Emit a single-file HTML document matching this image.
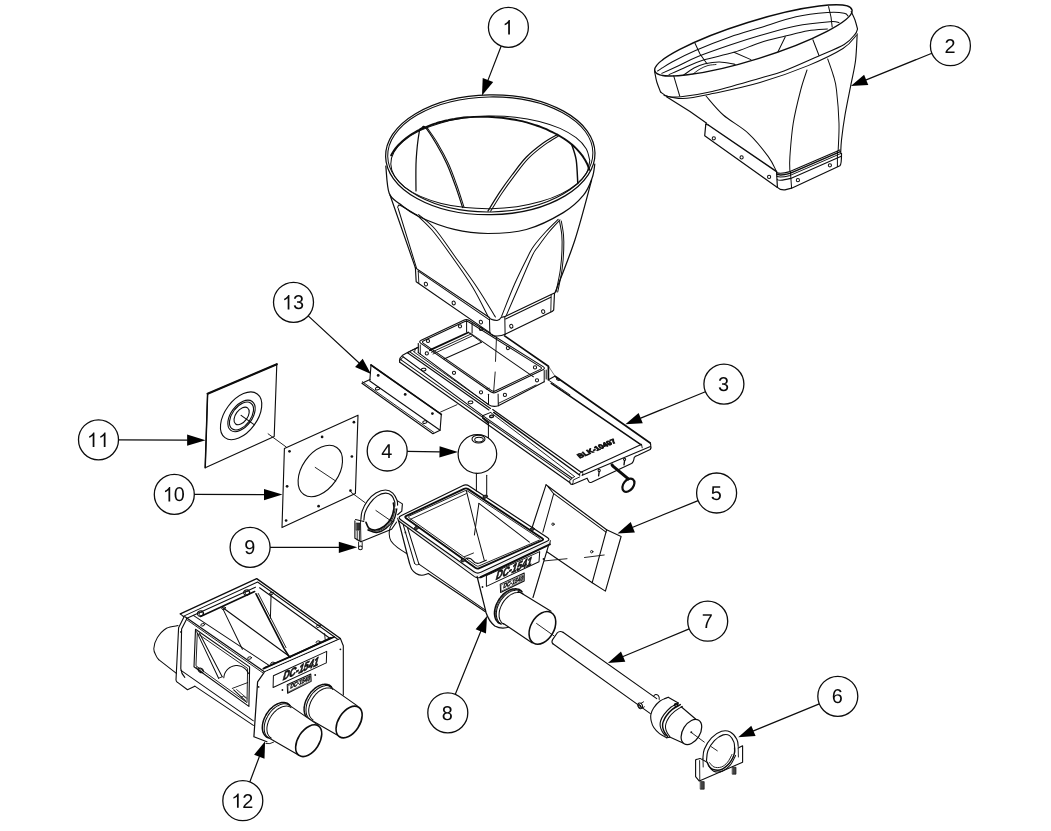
<!DOCTYPE html>
<html><head><meta charset="utf-8"><title>Exploded view</title>
<style>
html,body{margin:0;padding:0;background:#fff;}
body{width:1051px;height:831px;overflow:hidden;font-family:"Liberation Sans",sans-serif;}
svg{display:block;position:absolute;left:0;top:0;}
svg *{vector-effect:none;}
.g{fill:none;stroke:#0c0c0c;stroke-width:1.2;stroke-linecap:round;stroke-linejoin:round;}
.g text{text-rendering:geometricPrecision;}
.n{font-family:"Liberation Sans",sans-serif;font-size:19.9px;fill:#0a0a0a;stroke:none;text-anchor:middle;}
.t{font-family:"Liberation Sans",sans-serif;fill:#111;font-weight:bold;stroke:#111;stroke-linejoin:round;}
</style></head><body>
<svg width="1051" height="831" viewBox="0 0 1051 831">
<rect x="0" y="0" width="1051" height="831" fill="#fff" stroke="none"/>
<g class="g" opacity="0.999">
<!-- part 5 -->
<polyline points="546,484.8 606.6,529.8 592.2,582.7 546.5,551.5" stroke-width="1.12"/>
<polyline points="546,484.8 532.3,527" stroke-width="1.12"/>
<polyline points="553.7,493.7 542.9,532.2" stroke-width="1.01"/>
<polyline points="548,486.6 553.7,493.7 606,532.2" stroke-width="1.01"/>
<polyline points="606.6,529.8 621.1,536.5 605.4,591.1 592.2,582.7" stroke-width="1.12"/>
<circle cx="553" cy="524.2" r="1.2" stroke-width="0.90"/>
<circle cx="591.7" cy="551.7" r="1.2" stroke-width="0.90"/>
<polyline points="543.5,561 567,558.7" stroke-width="0.90"/>
<polyline points="584.5,557.5 604.2,555" stroke-width="0.90"/>
<!-- part 3 -->
<polyline points="399.8,362.3 569.7,482.5" stroke-width="1.23"/>
<polyline points="400.4,359.3 570.8,479.3" stroke-width="1.01"/>
<polyline points="402.7,356.5 483.1,415.8" stroke-width="1.01"/>
<polyline points="407.5,352.8 488.9,410" stroke-width="1.12"/>
<polyline points="409.4,351.7 490.5,408.5" stroke-width="1.01"/>
<polyline points="413.5,351.6 489,404.8" stroke-width="0.90"/>
<path d="M399.8 362.3Q398.6 358.5 402.2 355.6L407.5 352.5L417.4 347.4" stroke-width="1.12"/>
<path d="M400.8 360.2Q400.3 358.6 403.2 357.2" stroke-width="0.90"/>
<path d="M407.5 352.8L409.4 351.7L417.8 347.6" stroke-width="0.90"/>
<path d="M414.5 351.5Q414 348.5 418.2 347.2" stroke-width="0.90"/>
<ellipse cx="423.6" cy="369.6" rx="2.4" ry="1.3" stroke-width="1.01" transform="rotate(-8 423.6 369.6)"/>
<ellipse cx="470.5" cy="402.4" rx="2.4" ry="1.3" stroke-width="1.01" transform="rotate(-8 470.5 402.4)"/>
<ellipse cx="491.6" cy="416.3" rx="2" ry="1.2" stroke-width="1.34" transform="rotate(-8 491.6 416.3)"/>
<polyline points="482.6,415.8 490.8,412.4" stroke-width="1.01"/>
<polyline points="482.6,415.8 482.6,418.6" stroke-width="0.90"/>
<polyline points="483.6,418.6 488.5,423.2" stroke-width="1.79"/>
<polyline points="492.7,409.5 581.1,472.3" stroke-width="1.12"/>
<polyline points="493.7,412.4 579.5,475" stroke-width="1.46"/>
<polyline points="490.8,412.6 574.5,476.5" stroke-width="0.90"/>
<polyline points="483.1,415.8 572,478" stroke-width="1.01"/>
<path d="M569.7 482.5Q570.3 484.6 572.4 484.4L587.1 478.2L588.7 481.5Q589.6 483 591.6 482.3L631.5 463.6Q633.6 462.3 634.2 457.6Q635 456 638 455.2L650.2 449.6Q651.6 447.6 650.6 444.6" stroke-width="1.12"/>
<path d="M569.7 482.5Q568.8 480.6 570.8 479.3" stroke-width="0.90"/>
<path d="M570.8 479.3Q571.6 478.3 574.5 476.6" stroke-width="0.90"/>
<path d="M572.4 484.4Q573.5 482.6 573.2 480.0L579.8 476.9" stroke-width="0.90"/>
<path d="M579.5 475Q578.4 473.4 581.1 472.3" stroke-width="0.90"/>
<path d="M582.4 475.2Q583.6 473.4 582.4 471.6" stroke-width="0.90"/>
<polyline points="581.4,471.9 641.2,444.6" stroke-width="1.12"/>
<polyline points="582.2,475.2 650.4,446.6" stroke-width="1.12"/>
<polyline points="641.5,444.2 642.2,447.8" stroke-width="0.90"/>
<polyline points="548.6,366.4 555.1,376.3" stroke-width="0.56"/>
<polyline points="504.6,335.9 548.4,366.2 548.4,379.7" stroke-width="1.68"/>
<polyline points="546.2,370 546.2,379" stroke-width="1.01"/>
<polyline points="555.1,376.3 650.2,443" stroke-width="1.68"/>
<polyline points="551.2,383.3 641.2,444.9" stroke-width="1.57"/>
<polyline points="548.4,379.7 554.7,376.3" stroke-width="1.12"/>
<polyline points="548.9,380.4 570,394.8" stroke-width="0.90"/>
<path d="M650.2 443Q651 444 650.6 444.6" stroke-width="1.12"/>
<ellipse cx="558" cy="379.3" rx="1.6" ry="0.9" stroke-width="1.12" transform="rotate(30 558 379.3)"/>
<path d="M420.9 343.4Q418.3 341.6 421.2 340.2L463.7 320.2Q466.6 318.8 469.3 320.5L543.1 366.6Q545.8 368.3 542.9 369.7L496.2 392.2Q493.3 393.6 490.7 391.8Z" stroke-width="1.12" fill="#fff"/>
<path d="M423.4 343.3Q421.3 341.8 423.7 340.7L464.2 321.7Q466.6 320.6 468.8 322L540.4 366.9Q542.6 368.3 540.3 369.4L495.6 390.7Q493.3 391.8 491.2 390.3Z" stroke-width="1.01"/>
<polyline points="418.3,343.5 418.3,352.6" stroke-width="1.12"/>
<polyline points="420.3,345 420.3,354.6" stroke-width="0.90"/>
<path d="M418.3 352.6L488.4 404.6Q493 407.6 498.3 405.7L544.2 381.8" stroke-width="1.12"/>
<polyline points="488.5,394.3 488.5,404.6" stroke-width="1.01"/>
<polyline points="498.1,393.9 498.3,405.7" stroke-width="1.01"/>
<polyline points="544.2,370.5 544.2,381.8" stroke-width="1.01"/>
<polyline points="498.5,403.3 536,385" stroke-width="0.90"/>
<polyline points="429.9,350.2 468.2,332.5" stroke-width="1.90"/>
<polyline points="431.5,352.3 470.5,334.3" stroke-width="0.90"/>
<polyline points="433,354 472,336" stroke-width="0.90"/>
<polyline points="444,359 481.5,342.2" stroke-width="1.01"/>
<polyline points="466.6,320.5 466.6,332" stroke-width="1.01"/>
<polyline points="472.1,323 472.1,333" stroke-width="1.01"/>
<polyline points="469.8,332.8 533.5,376.8" stroke-width="1.01"/>
<polyline points="468.5,332.6 481.5,342.2" stroke-width="0.90"/>
<circle cx="480.9" cy="329" r="1.6" stroke-width="1.01"/>
<circle cx="426.8" cy="353.4" r="1.6" stroke-width="1.01"/>
<circle cx="454" cy="372.8" r="1.6" stroke-width="1.01"/>
<circle cx="481" cy="392.3" r="1.6" stroke-width="1.01"/>
<circle cx="504.9" cy="394.9" r="1.6" stroke-width="1.01"/>
<circle cx="537" cy="380.3" r="1.6" stroke-width="1.01"/>
<circle cx="428" cy="341" r="1.6" stroke-width="1.01"/>
<circle cx="460" cy="326.3" r="1.6" stroke-width="1.01"/>
<circle cx="507.9" cy="348.1" r="1.6" stroke-width="1.01"/>
<circle cx="535" cy="367.4" r="1.6" stroke-width="1.01"/>
<polyline points="496.5,337 495.5,361.4" stroke-width="0.90"/>
<polyline points="495.2,372 493.6,392.2" stroke-width="0.90"/>
<polyline points="486.3,389.2 489.3,388.2" stroke-width="0.78"/>
<circle cx="599.2" cy="470.4" r="1.1" stroke-width="1.01"/>
<polyline points="599.2,471.4 598.6,475.9" stroke-width="1.34"/>
<circle cx="624.6" cy="459.3" r="1.1" stroke-width="1.01"/>
<polyline points="624.6,460.3 624,464.8" stroke-width="1.34"/>
<circle cx="612" cy="464.8" r="1.5" fill="#111" stroke="none"/>
<polyline points="612.6,465.8 628.3,478.8" stroke-width="3.02"/>
<ellipse cx="628.4" cy="485.2" rx="7.4" ry="5" stroke-width="2.24" transform="rotate(-52 628.4 485.2)"/>
<text class="t" font-size="7.8" stroke="#111" stroke-width="0.9" transform="matrix(0.916 -0.400 0.634 0.689 579.7 458.5)" textLength="40.5" lengthAdjust="spacingAndGlyphs">BLK-10497</text>
<!-- part 1 -->
<ellipse cx="490.3" cy="154.8" rx="104.7" ry="59.9" stroke-width="1.23" transform="rotate(-1 490.3 154.8)"/>
<ellipse cx="490.3" cy="154.4" rx="102.6" ry="57.5" stroke-width="1.01" transform="rotate(-1 490.3 154.4)"/>
<path d="M589.8 160.7C589.3 162.7 588.8 168.8 586.6 172.7C584.5 176.6 581.1 180.5 576.9 184C572.6 187.6 567.2 191 561.2 193.9C555.2 196.8 548.1 199.5 540.7 201.6C533.3 203.7 525.1 205.5 516.8 206.7C508.6 207.8 499.7 208.5 491.1 208.7C482.5 208.8 473.6 208.5 465.3 207.6C457 206.7 448.7 205.2 441.3 203.4C433.8 201.5 426.6 199.1 420.5 196.4C414.4 193.6 408.9 190.4 404.5 187.1C400.2 183.7 396.7 179.9 394.4 176.1C392.1 172.2 390.9 168.1 390.8 164.1C390.7 160.1 391.8 156 394 152.1C396.1 148.2 399.5 144.3 403.7 140.8C408 137.2 413.4 133.8 419.4 130.9C425.4 128 432.5 125.3 439.9 123.2C447.3 121.1 455.5 119.3 463.8 118.1C472 117 480.9 116.3 489.5 116.1C498.1 116 507 116.3 515.3 117.2C523.6 118.1 531.9 119.6 539.3 121.4C546.8 123.3 554 125.7 560.1 128.4C566.2 131.2 571.7 134.4 576.1 137.7C580.4 141.1 583.9 144.9 586.2 148.7C588.5 152.6 589.2 158.7 589.8 160.7" stroke-width="1.01"/>
<path d="M391.1 155.4C391.4 154.7 392.4 152.9 393.2 151.7C394 150.5 394.8 149.3 395.7 148.1C396.7 147 397.7 145.8 398.7 144.7C399.8 143.6 400.9 142.5 402.1 141.4C403.3 140.3 404.5 139.3 405.9 138.2C407.2 137.2 408.6 136.2 410 135.3C411.5 134.3 413 133.4 414.5 132.5C416.1 131.6 417.7 130.7 419.4 129.9C421.1 129 422.8 128.2 424.6 127.5C426.4 126.7 428.2 126 430.1 125.3C431.9 124.6 433.8 124 435.8 123.4C437.7 122.7 439.7 122.2 441.8 121.6C443.8 121.1 445.9 120.6 448 120.2C450.1 119.7 452.2 119.3 454.4 119C456.5 118.6 458.7 118.3 460.9 118C463.1 117.7 465.3 117.5 467.6 117.3C469.8 117.1 472.1 117 474.3 116.9C476.6 116.8 478.9 116.7 481.2 116.7C483.5 116.7 485.7 116.7 488 116.8C490.3 116.9 492.6 117 494.9 117.2C497.2 117.3 499.5 117.5 501.8 117.8C504 118.1 506.3 118.4 508.5 118.7C510.8 119 513 119.4 515.2 119.8C517.5 120.3 519.7 120.7 521.8 121.2C524 121.8 526.1 122.3 528.2 122.9C530.4 123.5 532.4 124.1 534.5 124.8C536.5 125.5 538.6 126.2 540.5 126.9C542.5 127.6 544.4 128.4 546.3 129.2C548.2 130.1 550.1 130.9 551.9 131.8C553.7 132.7 555.4 133.6 557.1 134.5C558.8 135.5 560.5 136.5 562.1 137.5C563.7 138.5 565.2 139.5 566.7 140.6C568.1 141.6 569.6 142.7 570.9 143.8C572.3 144.9 573.6 146.1 574.8 147.2C576 148.4 577.2 149.6 578.3 150.8C579.4 152 580.4 153.2 581.3 154.4C582.3 155.6 583.2 156.9 584 158.2C584.8 159.4 585.6 160.7 586.2 162C586.9 163.3 587.5 164.5 588 165.8C588.5 167.1 589.1 169.1 589.3 169.8" stroke-width="1.90"/>
<path d="M385.8 166C386.4 170.6 386.8 187 389.2 193.3C391.6 199.6 395.2 200.2 400 204C404.8 207.8 409.1 212 418.1 216.2C427.1 220.4 442.6 226.5 454.2 229.4C465.8 232.3 475.9 233.5 487.9 233.5C499.9 233.5 513.8 233 526.4 229.5C539 226 553.8 218.3 563.3 212.6C572.8 206.9 578.7 200.9 583.5 195.1C588.3 189.3 590.3 183 592.2 177.8C594.1 172.6 594.4 166.3 594.8 164" stroke-width="1.23"/>
<polyline points="390,195 415.4,267.9"/>
<path d="M591.6 180.2C588.8 190.2 581 221.2 574.9 240C568.8 258.8 558.3 284 555 292.8" stroke-width="1.23"/>
<path d="M416 191C416 185.7 415.6 169.3 416.2 159.4C416.8 149.5 418.4 136.8 419.3 131.7C420.2 126.6 421.3 129.1 421.7 128.6" stroke-width="1.23"/>
<path d="M421.7 128.1C422.3 128 422.9 124.8 425.3 127.4C427.7 130 432.6 137.7 436.2 143.8C439.8 149.9 443.8 157.2 447 164.2C450.2 171.2 452.8 178.7 455.4 185.9C458 193.1 461.4 203.9 462.6 207.5" stroke-width="1.23"/>
<path d="M427 127.6C428.8 130.2 434.1 137.4 437.7 143.4C441.3 149.4 445.3 156.8 448.5 163.8C451.7 170.8 454.3 178.3 456.9 185.5C459.5 192.7 462.8 203.6 464 207.2" stroke-width="1.01"/>
<path d="M557.8 134.4C555.4 135.8 548.4 139.2 543.2 143C538 146.8 531.6 151.7 526.4 157C521.2 162.3 516.4 169.2 512 175C507.6 180.8 503.9 185.9 499.9 191.9C495.9 197.9 489.9 207.9 487.9 211.1" stroke-width="1.23"/>
<path d="M559.6 135.4C557.2 136.9 550.4 140.6 545.2 144.4C540 148.2 533.6 153.1 528.4 158.4C523.2 163.7 518.4 170.6 514 176.4C509.6 182.2 505.8 187.5 501.9 193.3C498 199.1 492.5 208.3 490.6 211.3" stroke-width="1.01"/>
<path d="M571.6 144.2C572.4 146.8 575.2 153.4 576.2 160C577.2 166.6 577.5 179.6 577.8 183.5" stroke-width="1.46"/>
<path d="M397.7 207.5C397.8 207.2 397.9 205.8 398.5 205.5C399.1 205.2 397.9 204.2 401 205.8C404.1 207.4 414.2 213.5 416.9 215" stroke-width="1.01"/>
<path d="M416.9 215C419.4 217.5 426.6 223.7 432 230C437.4 236.3 442.6 243.5 449.3 253C456.1 262.5 465.9 276.2 472.5 287C479.1 297.8 485.9 312.5 488.6 317.6" stroke-width="1.01"/>
<path d="M418.6 214.6C421.3 217 429.1 222.3 435 229C440.9 235.7 446.9 245.3 453.9 255C460.9 264.7 469.9 276.7 476.8 287C483.7 297.3 492.3 312 495.4 317" stroke-width="1.01"/>
<polyline points="398.2,208.5 416.6,268.3" stroke-width="1.01"/>
<path d="M560 219.8C558.2 221.8 552.6 227.6 549 232C545.4 236.4 541.1 242.4 538.4 246.2C535.7 250 535.7 248.6 532.6 255C529.5 261.4 524 274.5 519.6 284.7C515.2 294.9 508.3 310.9 506 316.1" stroke-width="1.01"/>
<path d="M558.2 219.3C556.2 221.3 550 227.1 546 231.5C542 235.9 536.9 241.8 534 245.7C531.1 249.6 531.9 248.6 528.6 255C525.4 261.4 519 274 514.5 284.2C510 294.4 503.8 310.9 501.6 316.3" stroke-width="1.01"/>
<path d="M561.3 221C561.7 223.3 563.1 230.2 563.5 235C563.9 239.8 564 244.2 563.7 250C563.5 255.8 563 263 562 270C561 277 558.4 288.3 557.7 292" stroke-width="1.01"/>
<path d="M559.6 221.6C560 223.8 561.4 230.3 561.8 235C562.2 239.7 562.2 244.2 562 250C561.8 255.8 561.3 263 560.3 270C559.3 277 556.7 288.3 556 292" stroke-width="1.01"/>
<polygon points="415.4,267.9 489,317.3 497,320.5 505.1,316.5 554.5,293 553.7,310 505.1,334.3 495.4,336 489.8,332.6 416.2,281.7" stroke-width="0.11" fill="#fff"/>
<polyline points="415.4,267.9 416.2,281.7 489.8,332.6" stroke-width="1.12"/>
<polyline points="418.2,270.6 418.8,283" stroke-width="0.90"/>
<polyline points="415.4,267.9 489,317.3" stroke-width="1.12"/>
<polyline points="418.2,271.2 489.4,319.8" stroke-width="1.01"/>
<path d="M489.0 317.3Q490.6 320.2 497.0 320.5Q500.0 320.0 501.1 317.4L505.1 316.5" stroke-width="1.12"/>
<polyline points="489.5,319 489.8,332.6" stroke-width="1.01"/>
<polyline points="504.8,317 505.1,334.3" stroke-width="1.01"/>
<path d="M489.8 332.6Q492 336.2 496.4 336.0Q501.6 336.2 505.1 334.3" stroke-width="1.12"/>
<polyline points="505.1,316.5 551.2,294.6 554.5,293 553.7,310 552.1,311.6 505.1,334.3" stroke-width="1.12"/>
<polyline points="505.6,319 550.8,297.2" stroke-width="1.01"/>
<polyline points="551.2,294.8 550.8,311.6" stroke-width="0.90"/>
<ellipse cx="425.9" cy="284.1" rx="1.6" ry="1.9" stroke-width="1.01" transform="rotate(-20 425.9 284.1)"/>
<ellipse cx="453.7" cy="303" rx="1.6" ry="1.9" stroke-width="1.01" transform="rotate(-20 453.7 303)"/>
<ellipse cx="480.9" cy="322.1" rx="1.6" ry="1.9" stroke-width="1.01" transform="rotate(-20 480.9 322.1)"/>
<ellipse cx="511.3" cy="326.2" rx="1.6" ry="1.9" stroke-width="1.01" transform="rotate(-20 511.3 326.2)"/>
<ellipse cx="543.2" cy="311.6" rx="1.6" ry="1.9" stroke-width="1.01" transform="rotate(-20 543.2 311.6)"/>
<!-- part 11 -->
<polygon points="207.6,393.7 276.8,364.2 274.2,436.6 205.2,467.7" stroke-width="1.12"/>
<polyline points="207.6,393.7 276.8,364.2" stroke-width="2.13"/>
<polyline points="207.6,393.7 205.2,467.7" stroke-width="1.46"/>
<ellipse cx="241.1" cy="415.8" rx="27.2" ry="16" stroke-width="1.12" transform="rotate(-53.5 241.1 415.8)"/>
<ellipse cx="241.5" cy="415.9" rx="18" ry="10.6" stroke-width="1.12" transform="rotate(-53.5 241.5 415.9)"/>
<ellipse cx="241.5" cy="416" rx="15.9" ry="9.3" stroke-width="1.12" transform="rotate(-53.5 241.5 416)"/>
<ellipse cx="241.6" cy="415.9" rx="10" ry="5.9" stroke-width="1.12" transform="rotate(-53.5 241.6 415.9)"/>
<polyline points="241.1,415.4 254.1,424.6" stroke-width="1.12"/>
<polyline points="268.1,433.8 286.2,447" stroke-width="0.90"/>
<!-- part 10 -->
<polygon points="284.4,448.6 358,415.2 355.4,493.4 282,527.6" stroke-width="1.12"/>
<ellipse cx="320.3" cy="471" rx="28.7" ry="18.2" stroke-width="1.12" transform="rotate(-55 320.3 471)"/>
<circle cx="289.5" cy="451.3" r="1.35" fill="#111" stroke="none"/>
<circle cx="322.1" cy="436.9" r="1.35" fill="#111" stroke="none"/>
<circle cx="353.9" cy="422.2" r="1.35" fill="#111" stroke="none"/>
<circle cx="351.9" cy="456.5" r="1.35" fill="#111" stroke="none"/>
<circle cx="350.5" cy="490.7" r="1.35" fill="#111" stroke="none"/>
<circle cx="318.6" cy="506.2" r="1.35" fill="#111" stroke="none"/>
<circle cx="286.1" cy="520.5" r="1.35" fill="#111" stroke="none"/>
<circle cx="287.1" cy="486.3" r="1.35" fill="#111" stroke="none"/>
<polyline points="315.2,467.4 335.8,481.1" stroke-width="0.90"/>
<polyline points="351.2,492.4 365.1,502.7" stroke-width="0.90"/>
<!-- part 9 -->
<path d="M360.9 519.5C361.1 518.1 361 514.2 362.1 511.1C363.2 508 365.2 503.9 367.5 500.9C369.8 497.9 372.9 494.9 375.9 493.1C378.9 491.3 382.7 490 385.5 490C388.3 490 390.9 491.4 392.8 493.1C394.7 494.8 396.2 498.3 397 500.3C397.8 502.3 397.5 504.3 397.6 505.1" stroke-width="1.12"/>
<path d="M363.9 520.1C364.1 518.8 364.1 515.1 365.1 512.3C366.1 509.5 367.9 506 369.9 503.3C371.9 500.6 374.5 497.8 377.1 496.1C379.7 494.4 383.1 493.2 385.5 493.1C387.9 493 390.1 494.1 391.6 495.5C393.1 496.9 394.1 499.7 394.6 501.5C395.1 503.3 394.8 505.5 394.8 506.3" stroke-width="1.12"/>
<path d="M366 522.3C366.5 523.3 367.3 526.8 368.9 528.1C370.5 529.4 373 530.3 375.6 530C378.2 529.7 381.7 528.1 384.3 526.2C386.9 524.3 389.4 521.4 391 518.5C392.6 515.6 393.5 511.5 393.9 508.9C394.3 506.3 393.5 504.1 393.4 503.1" stroke-width="1.68"/>
<path d="M367.9 530C369.3 530.4 373.6 532.8 376.6 532.5C379.7 532.2 383.3 530.3 386.2 528.1C389.1 525.9 392.1 522.7 393.9 519.5C395.7 516.3 396.3 510.7 396.8 508.9" stroke-width="1.34"/>
<path d="M368.2 529C369.5 529.4 373.2 531.5 376 531.2C378.8 530.9 382.5 529.2 385.2 527.2C387.9 525.2 390.7 522 392.4 519C394.1 516 394.7 510.6 395.2 508.9" stroke-width="0.90"/>
<polyline points="355.5,519.5 363.9,521.5" stroke-width="1.01"/>
<polyline points="354.9,520.7 354.9,538.2 360.9,541.8 391.6,529.2 396.6,522" stroke-width="1.12"/>
<polyline points="397.6,500.9 402.4,503.9 401.8,511.1 397.6,514.7" stroke-width="1.12"/>
<polyline points="360.5,520.6 360.9,541.8" stroke-width="0.90"/>
<rect x="356.4" y="523.0" width="3.6" height="7.2" fill="#333" stroke="#111" stroke-width="0.6"/>
<polyline points="357.2,531 357.2,540" stroke-width="0.90"/>
<polyline points="359.4,531 359.4,540.6" stroke-width="0.90"/>
<polyline points="358.6,542 358.6,546.5" stroke-width="0.90"/>
<polyline points="362.2,542.5 362.2,546.5" stroke-width="0.90"/>
<circle cx="360.4" cy="547.9" r="1.9" stroke-width="1.01"/>
<polyline points="375.9,510.5 391.6,521.3" stroke-width="0.90"/>
<!-- part 8 -->
<path d="M394.2 520.6C393.5 521.8 391 525.3 390.2 527.5C389.4 529.7 389.1 531.8 389.2 534C389.3 536.2 389.6 538.7 391 541C392.4 543.3 394.6 545.3 397.6 547.6C400.6 549.9 407.1 553.8 409 555" stroke-width="1.01"/>
<polygon points="398.2,519 477,576 549.5,542 533,597.5 520,610 509,627 494.8,626.4 486.1,612.7 485.4,611.8 428.3,573.5 421.8,575.3 416,573.5 411.7,569.2 409.5,563.4" stroke-width="0.11" fill="#fff"/>
<polyline points="398.5,520.4 409.5,563.4" stroke-width="1.23"/>
<path d="M409.5 563.4C409.9 564.4 410.6 567.5 411.7 569.2C412.8 570.9 414.3 572.5 416 573.5C417.7 574.5 419.8 575.3 421.8 575.3C423.9 575.3 427.2 573.8 428.3 573.5" stroke-width="1.12"/>
<polyline points="428.3,573.5 485.4,611.8" stroke-width="1.12"/>
<polyline points="403.2,524.6 414.6,563.4" stroke-width="1.01"/>
<polyline points="407.6,528 418.9,564.2" stroke-width="1.01"/>
<path d="M414.6 563.4Q415.6 566.0 418.9 564.2" stroke-width="0.90"/>
<polyline points="418.9,564.2 484.6,609.6" stroke-width="1.01"/>
<circle cx="405.4" cy="532.4" r="0.9" fill="#111" stroke="none"/>
<path d="M477.1 576.5L486.1 612.7Q488.6 620.8 494.8 626.0Q501.5 629.6 509.4 627.0" stroke-width="1.23"/>
<polyline points="548.4,545.8 533,597.5" stroke-width="1.12"/>
<path d="M400.7 519.7Q397.4 517.4 401 515.7L462.6 485.7Q466.2 484 469.5 486.2L547.3 537.4Q550.6 539.6 547 541.3L480.9 572.3Q477.3 574 474 571.7Z" stroke-width="1.23" fill="#fff"/>
<path d="M398.4 520.8L474.5 576.6Q477.4 578.6 480.6 577.2" stroke-width="1.12"/>
<path d="M480.6 577.2L549.8 544.4" stroke-width="2.13"/>
<polyline points="397.6,518.2 398.4,520.8" stroke-width="1.01"/>
<polyline points="550.3,540.5 549.8,544.2" stroke-width="1.01"/>
<path d="M406.1 518.2Q404.2 516.8 406.4 515.8L464 488.8Q466.2 487.8 468.2 489.1L542.2 538.2Q544.2 539.5 542 540.5L479.4 568.2Q477.2 569.2 475.3 567.8Z" stroke-width="1.90"/>
<path d="M408.8 517.7Q407.6 516.8 409 516.2L464.8 490.8Q466.2 490.2 467.5 491L539.7 538.6Q541 539.4 539.6 540L478.8 566Q477.4 566.6 476.2 565.7Z" stroke-width="0.90"/>
<polyline points="410.6,519.2 466.4,493.6" stroke-width="0.90"/>
<polyline points="466.4,490.8 475.4,527 484.3,560.3" stroke-width="1.01"/>
<polyline points="478.9,503.4 476.2,522 474.4,535" stroke-width="1.01"/>
<polyline points="478.9,503.4 529.4,542.2" stroke-width="1.01"/>
<polyline points="464.4,556.7 473.5,553" stroke-width="0.90"/>
<path d="M466.4 558.4Q470.5 557.4 472.8 560.6Q475.6 564.4 479.6 563.0L486.3 560.2" stroke-width="1.12"/>
<ellipse cx="416.6" cy="527.8" rx="2.3" ry="1.5" stroke-width="0.90" fill="#444" transform="rotate(-20 416.6 527.8)"/>
<ellipse cx="463" cy="560.3" rx="2.3" ry="1.5" stroke-width="0.90" fill="#444" transform="rotate(-20 463 560.3)"/>
<ellipse cx="485.2" cy="496.7" rx="2.3" ry="1.5" stroke-width="0.90" fill="#444" transform="rotate(-20 485.2 496.7)"/>
<ellipse cx="532.1" cy="529.2" rx="2.3" ry="1.5" stroke-width="0.90" fill="#444" transform="rotate(-20 532.1 529.2)"/>
<polygon points="486.4,575.6 539.7,551.6 539,561.8 486.4,586.4" stroke-width="1.01"/>
<text class="t" font-size="10" stroke="#111" stroke-width="0.65" transform="matrix(0.921 -0.390 -0.349 1.279 495.2 580)" textLength="38.8" lengthAdjust="spacingAndGlyphs">DC-1541</text>
<polygon points="500.2,584.1 524.2,573 524.2,581 500.6,592.5" stroke-width="1.01"/>
<polygon points="501.3,584.9 523.2,574.8 523.2,580.4 501.6,591" stroke-width="0.56"/>
<text class="t" font-size="6" stroke="#111" stroke-width="0.45" transform="matrix(0.920 -0.393 -0.242 1.139 502.9 588.5)" textLength="21.6" lengthAdjust="spacingAndGlyphs">DC-1540</text>
<circle cx="482.5" cy="587" r="0.9" fill="#111" stroke="none"/>
<circle cx="543.5" cy="559" r="0.9" fill="#111" stroke="none"/>
<path d="M517.9 591.0L551.0 611.2L532.3 643.0L503.4 623.5Z" fill="#fff" stroke="none"/>
<path d="M500.5 623.8C500.3 623.7 499.4 623.3 498.9 623C498.4 622.7 497.9 622.3 497.5 621.9C497.1 621.4 496.7 620.9 496.3 620.4C496 619.8 495.7 619.3 495.4 618.6C495.2 618 495 617.3 494.8 616.6C494.7 615.9 494.6 615.2 494.5 614.4C494.4 613.7 494.4 612.9 494.5 612.1C494.5 611.3 494.7 610.4 494.8 609.6C495 608.8 495.2 607.9 495.4 607.1C495.7 606.2 496 605.4 496.3 604.5C496.6 603.7 497 602.9 497.5 602C497.9 601.2 498.4 600.4 498.9 599.6C499.4 598.9 499.9 598.1 500.5 597.4C501.1 596.6 501.7 595.9 502.3 595.3C502.9 594.6 503.6 594 504.3 593.4C504.9 592.9 505.6 592.3 506.3 591.9C507 591.4 507.7 591 508.5 590.6C509.2 590.2 509.9 589.9 510.6 589.6C511.3 589.4 512 589.2 512.7 589C513.5 588.9 514.1 588.8 514.8 588.8C515.5 588.7 516.2 588.8 516.8 588.9C517.4 589 518 589.1 518.6 589.3C519.2 589.5 519.7 589.8 520.2 590.1C520.8 590.5 521.4 591.1 521.7 591.3" stroke-width="1.46"/>
<path d="M501.5 624.1C501.3 624 500.5 623.6 500.1 623.2C499.6 622.8 499.2 622.4 498.8 622C498.4 621.5 498.1 621 497.8 620.5C497.5 620 497.3 619.4 497.1 618.8C496.8 618.1 496.7 617.5 496.6 616.8C496.4 616.1 496.4 615.4 496.3 614.7C496.3 614 496.3 613.2 496.4 612.4C496.5 611.7 496.6 610.9 496.7 610.1C496.9 609.3 497.1 608.5 497.3 607.7C497.6 606.9 497.9 606.1 498.2 605.3C498.5 604.6 498.9 603.8 499.3 603C499.7 602.2 500.2 601.5 500.6 600.7C501.1 600 501.6 599.3 502.2 598.6C502.7 597.9 503.3 597.3 503.8 596.6C504.4 596 505.1 595.4 505.7 594.9C506.3 594.3 507 593.8 507.6 593.4C508.3 592.9 508.9 592.5 509.6 592.1C510.3 591.7 511 591.4 511.6 591.1C512.3 590.9 513 590.7 513.7 590.5C514.3 590.3 515 590.2 515.6 590.1C516.3 590.1 516.9 590.1 517.5 590.1C518.1 590.2 518.7 590.3 519.3 590.4C519.9 590.6 520.4 590.8 520.9 591.1C521.4 591.3 522.1 591.9 522.4 592" stroke-width="1.01"/>
<path d="M503.5 624.1C503.3 624 502.7 623.5 502.3 623.2C501.9 622.8 501.5 622.4 501.2 622C500.9 621.6 500.6 621.1 500.3 620.6C500 620.1 499.8 619.5 499.7 619C499.5 618.4 499.3 617.8 499.2 617.2C499.1 616.5 499.1 615.9 499.1 615.2C499.1 614.5 499.1 613.8 499.2 613.1C499.2 612.4 499.3 611.7 499.5 611C499.6 610.2 499.8 609.5 500.1 608.8C500.3 608.1 500.6 607.3 500.9 606.6C501.2 605.9 501.5 605.1 501.9 604.4C502.3 603.7 502.7 603 503.1 602.4C503.5 601.7 504 601 504.5 600.4C505 599.8 505.5 599.2 506 598.6C506.6 598 507.1 597.5 507.7 597C508.3 596.5 508.9 596 509.5 595.6C510.1 595.1 510.7 594.7 511.3 594.4C511.9 594 512.6 593.7 513.2 593.5C513.8 593.2 514.4 593 515 592.8C515.6 592.7 516.3 592.5 516.9 592.5C517.4 592.4 518 592.4 518.6 592.4C519.2 592.4 519.7 592.5 520.3 592.6C520.8 592.8 521.3 592.9 521.8 593.1C522.3 593.4 522.9 593.8 523.1 593.9" stroke-width="1.01"/>
<path d="M496.8 620C496.7 619.8 496.4 619.2 496.2 618.7C496.1 618.3 495.9 617.8 495.8 617.3C495.7 616.8 495.6 616.3 495.5 615.8C495.5 615.3 495.4 614.7 495.4 614.2C495.4 613.6 495.4 613.1 495.4 612.5C495.5 611.9 495.5 611.4 495.6 610.8C495.7 610.2 495.8 609.6 496 609C496.1 608.4 496.2 607.8 496.4 607.2C496.6 606.6 496.8 606 497.1 605.4C497.3 604.8 497.6 604.2 497.8 603.6C498.1 603 498.4 602.4 498.7 601.9C499 601.3 499.4 600.7 499.7 600.2C500.1 599.6 500.5 599.1 500.9 598.6C501.3 598 501.7 597.5 502.1 597C502.5 596.5 503 596.1 503.4 595.6C503.9 595.2 504.3 594.7 504.8 594.3C505.3 593.9 505.8 593.5 506.2 593.1C506.7 592.8 507.2 592.4 507.7 592.1C508.2 591.8 508.7 591.5 509.2 591.2C509.8 591 510.3 590.7 510.8 590.5C511.3 590.3 511.8 590.1 512.3 590C512.8 589.8 513.3 589.7 513.8 589.6C514.3 589.5 514.8 589.5 515.3 589.4C515.7 589.4 516.4 589.4 516.7 589.4" stroke-width="0.78"/>
<polyline points="517.9,591 551,611.2" stroke-width="1.12"/>
<polyline points="503.4,623.5 532.3,643" stroke-width="1.12"/>
<ellipse cx="542.4" cy="627.9" rx="17.6" ry="11.6" stroke-width="1.57" fill="#fff" transform="rotate(-60 542.4 627.9)"/>
<polyline points="536.6,623.5 553.9,635.8" stroke-width="0.90"/>
<!-- part 7 -->
<path d="M563.0 632.3L656.7 698.6" stroke-width="1.12"/>
<path d="M552.9 643.8L650.4 713.6" stroke-width="1.12"/>
<path d="M563.0 632.3Q559.6 630.4 557.0 633.2L552.6 639.6Q551.2 642.4 552.9 643.8" stroke-width="1.12"/>
<ellipse cx="640.2" cy="705.8" rx="2.2" ry="2.9" stroke-width="1.01" transform="rotate(-20 640.2 705.8)"/>
<ellipse cx="639.5" cy="706.2" rx="1.2" ry="1.7" stroke-width="0.90" transform="rotate(-20 639.5 706.2)"/>
<polyline points="641.2,703.2 643.6,701.8" stroke-width="0.90"/>
<polyline points="642,708.2 644.4,706.8" stroke-width="0.90"/>
<path d="M653.4 696.4Q655.4 693.2 658.2 695.4Q659.6 696.8 659.2 699.4" stroke-width="1.01"/>
<path d="M668.2 697.3L678.3 703.1L695.6 719.0L684.1 743.5L666.8 737.8L653 726.2L650.9 713.2Z" fill="#fff" stroke="none"/>
<path d="M668.2 697.3C666.8 697.9 662.4 699.2 660 701C657.6 702.8 655.1 705.8 653.6 708C652.1 710.2 651.3 712.3 650.9 714.5C650.5 716.7 650.7 718.8 651.2 721C651.7 723.2 652.4 725.4 653.8 727.5C655.2 729.6 657.3 731.9 659.5 733.6C661.7 735.3 665.6 737.1 666.8 737.8" stroke-width="1.12"/>
<polyline points="668.2,697.3 678.3,703.1" stroke-width="1.12"/>
<polyline points="666.8,737.8 669.7,737.2" stroke-width="1.01"/>
<path d="M678.3 703.1C676.9 703.9 672.4 706.1 670 708C667.6 709.9 665.5 712.5 663.9 714.7C662.3 716.9 661.2 719 660.6 721C660 723 660 724.8 660.3 726.5C660.6 728.2 661.4 730 662.2 731.5C663 733 664.8 735.1 665.3 735.8" stroke-width="1.12"/>
<path d="M680.3 704.6C678.9 705.4 674.4 707.7 672 709.6C669.6 711.5 667.7 713.9 666.2 716C664.7 718.1 663.6 720.5 663 722.4C662.4 724.3 662.5 725.9 662.8 727.6C663.1 729.3 663.8 730.9 664.6 732.4C665.4 733.9 667.1 735.9 667.6 736.6" stroke-width="1.46"/>
<path d="M682.4 706.4C681.1 707.2 676.8 709.6 674.6 711.4C672.4 713.2 670.4 715.4 669 717.4C667.6 719.4 666.6 721.6 666 723.4C665.4 725.2 665.4 726.8 665.6 728.4C665.8 730 666.5 731.4 667.2 732.8C667.9 734.2 669.4 736 669.8 736.6" stroke-width="1.01"/>
<ellipse cx="676.2" cy="705.2" rx="1.7" ry="1.3" stroke-width="1.46" transform="rotate(20 676.2 705.2)"/>
<polyline points="681.2,706.7 695.6,719" stroke-width="1.12"/>
<polyline points="669.7,737 684.1,743.5" stroke-width="1.12"/>
<ellipse cx="691.4" cy="732" rx="13.8" ry="8.6" stroke-width="1.23" fill="#fff" transform="rotate(-58 691.4 732)"/>
<circle cx="691.3" cy="732.3" r="1.0" fill="#111" stroke="none"/>
<polyline points="692,733 704.3,742.1" stroke-width="0.90"/>
<polyline points="710.8,746.4 717.3,750.8" stroke-width="0.90"/>
<!-- part 6 -->
<path d="M702.9 758.7C703.1 757.1 702.9 752.8 704.3 749.3C705.7 745.8 708.6 740.8 711.5 737.8C714.4 734.8 718.5 732.3 721.6 731.3C724.7 730.3 727.8 730.7 730.3 732C732.8 733.3 735.5 736.8 736.8 739.2C738.1 741.6 738 745.2 738.2 746.4" stroke-width="1.12"/>
<path d="M706.5 760.9C706.7 759.2 706.6 754.2 707.9 750.8C709.2 747.4 711.9 743.2 714.4 740.6C716.9 738 720.6 735.7 723.1 734.9C725.6 734.1 727.8 734.4 729.6 735.6C731.4 736.8 733.1 740.1 733.9 742.1C734.7 744.1 734.5 746.9 734.6 747.9" stroke-width="1.12"/>
<path d="M707.2 762.3C707.6 763 708.4 765.4 709.4 766.6C710.4 767.8 711 769 713 769.5C715 770 719 770.5 721.6 769.5C724.2 768.5 727 765.8 728.9 763.8C730.8 761.8 732 759.3 733 757.4C734 755.5 734.3 753.8 734.6 752.2C734.9 750.6 734.6 748.6 734.6 747.9" stroke-width="1.46"/>
<path d="M708.4 765.4C709.3 766.4 711.3 770.2 713.6 771.2C715.9 772.2 719.6 772.2 722.4 771.2C725.2 770.2 728 767.8 730.2 765.2C732.4 762.6 734.7 757 735.6 755.4" stroke-width="1.01"/>
<path d="M709.6 762.6C710.3 763.3 712 766.3 714 767C716 767.7 719.1 767.8 721.4 767C723.7 766.2 725.8 764.3 727.6 762.2C729.4 760.1 731.3 755.7 732 754.4" stroke-width="0.90"/>
<polyline points="696.4,759.4 700,758.4 707.2,762.3" stroke-width="1.01"/>
<polyline points="695.6,760.1 695.6,776.7 699.3,781.1 742.6,762.3 742.6,745.7 738.2,747.9" stroke-width="1.12"/>
<polyline points="695.6,760.1 696.4,759.4" stroke-width="1.01"/>
<polyline points="699.6,760.6 699.8,780.6" stroke-width="0.90"/>
<polyline points="703,758.8 703.2,767" stroke-width="0.90"/>
<polyline points="738.2,747.9 738.4,757" stroke-width="0.90"/>
<rect x="700.6" y="781.6" width="3.6" height="7.6" fill="#444" stroke="#111" stroke-width="0.7"/>
<rect x="732.6" y="767.2" width="3.4" height="7.0" fill="#444" stroke="#111" stroke-width="0.7"/>
<!-- part 12 -->
<path d="M178 625.6C176.1 626 169.9 626.2 166.5 628.2C163.1 630.2 159.5 634.2 157.4 637.6C155.3 641 154 645.6 153.8 648.7C153.6 651.8 155.6 654.6 156.4 656.4C157.2 658.2 158.3 659.1 158.7 659.6" stroke-width="1.01"/>
<polyline points="158.7,659.6 176.4,673.4" stroke-width="1.01"/>
<path d="M184.2 616.6L178.6 627.8L176.0 680.0Q176.2 681.6 177.6 682.4L187.5 689.8L194.8 686.2" stroke-width="1.12"/>
<path d="M186.4 619.4L181.6 629.0L180.8 668.6Q181.2 673.4 184.8 677.4" stroke-width="1.12"/>
<circle cx="181" cy="632" r="0.9" fill="#111" stroke="none"/>
<polyline points="181,670.3 253.4,720.8" stroke-width="1.01"/>
<polyline points="194.8,686.2 253.4,725.4" stroke-width="1.01"/>
<polygon points="195.5,629.3 249.6,666.9 248.9,706.4 194,666.7" stroke-width="1.12"/>
<polygon points="197.6,633.6 247.6,668.4 247,702.6 196.3,666" stroke-width="0.90"/>
<polyline points="196.6,631.6 218.6,678.2" stroke-width="1.01"/>
<polyline points="199.6,633.4 222.2,676.8" stroke-width="1.01"/>
<polyline points="218.6,678.2 222.2,676.8" stroke-width="0.90"/>
<path d="M223.8 677.7C223.8 677.5 223.9 676.8 224 676.3C224.1 675.8 224.2 675.4 224.3 674.9C224.4 674.4 224.6 674 224.8 673.5C224.9 673.1 225.2 672.6 225.4 672.2C225.6 671.8 225.9 671.4 226.2 671C226.4 670.6 226.7 670.2 227.1 669.9C227.4 669.5 227.7 669.2 228.1 668.9C228.4 668.5 228.8 668.2 229.2 668C229.6 667.7 230 667.4 230.4 667.2C230.8 667 231.3 666.8 231.7 666.6C232.2 666.4 232.6 666.2 233.1 666.1C233.5 666 234 665.9 234.5 665.8C235 665.7 235.4 665.6 235.9 665.6C236.4 665.6 236.9 665.6 237.4 665.6C237.8 665.7 238.3 665.7 238.8 665.8C239.3 665.9 239.7 666 240.2 666.1C240.7 666.3 241.1 666.4 241.6 666.6C242 666.8 242.4 667 242.9 667.2C243.3 667.5 243.7 667.7 244.1 668C244.5 668.3 244.8 668.6 245.2 668.9C245.5 669.2 245.9 669.6 246.2 669.9C246.5 670.3 246.8 670.7 247.1 671.1C247.4 671.5 247.6 671.9 247.9 672.3C248.1 672.7 248.4 673.4 248.5 673.6" stroke-width="1.01"/>
<polyline points="232.3,688.4 247.6,682.6" stroke-width="1.01"/>
<polyline points="233.7,689.8 245.3,700.6" stroke-width="1.01"/>
<polyline points="236.6,689.6 247,698.4" stroke-width="0.78"/>
<path d="M241.4 696.8Q243.8 695.2 245.8 697.8" stroke-width="0.78"/>
<ellipse cx="200.8" cy="670.4" rx="2.7" ry="2" stroke-width="1.01" transform="rotate(35 200.8 670.4)"/>
<polyline points="196.4,667.2 203.6,673.6" stroke-width="0.90"/>
<polyline points="180.3,613.9 256.7,578.6 340.4,638.5" stroke-width="1.34"/>
<polyline points="183.2,616.4 257.6,582 337.4,639" stroke-width="1.01"/>
<polyline points="186.4,618.6 255.4,587.2" stroke-width="1.12"/>
<polyline points="259.6,587.8 329.8,638.2" stroke-width="1.12"/>
<polyline points="180.3,613.9 183.9,616.8" stroke-width="1.01"/>
<polyline points="185,616.8 264,671.6" stroke-width="1.23"/>
<polyline points="186.6,619.6 262.8,672.8" stroke-width="0.90"/>
<polyline points="193.3,615.4 269.4,665.6" stroke-width="1.01"/>
<polyline points="340.4,638.5 264.6,671.7" stroke-width="1.12"/>
<polyline points="339.2,641.4 265.4,674.6" stroke-width="1.12"/>
<polyline points="334,637 263.4,668.6" stroke-width="1.90"/>
<polyline points="200.5,616.4 254.6,591.6" stroke-width="1.68"/>
<polyline points="222.9,608.9 242.4,649.3" stroke-width="1.01"/>
<polyline points="223.6,608.2 290.6,657.3" stroke-width="1.12"/>
<polyline points="256,593.8 284.1,648.6 289.2,656.6" stroke-width="1.68"/>
<polyline points="258.2,593.4 286,647.6" stroke-width="0.90"/>
<polyline points="271.1,593.8 270.4,618.3" stroke-width="1.01"/>
<polyline points="289.2,657.3 331,637.8" stroke-width="1.68"/>
<polyline points="264.6,667.4 287.7,658" stroke-width="1.01"/>
<polyline points="324.6,633.6 325.3,640.7" stroke-width="0.90"/>
<ellipse cx="200.5" cy="613.5" rx="3.1" ry="2.6" stroke-width="1.01" transform="rotate(-20 200.5 613.5)"/>
<ellipse cx="201.3" cy="614.1" rx="2.2" ry="1.8" stroke-width="0.78" transform="rotate(-20 201.3 614.1)"/>
<ellipse cx="246.7" cy="592.5" rx="3.1" ry="2.6" stroke-width="1.01" transform="rotate(-20 246.7 592.5)"/>
<ellipse cx="247.5" cy="593.1" rx="2.2" ry="1.8" stroke-width="0.78" transform="rotate(-20 247.5 593.1)"/>
<ellipse cx="202.7" cy="624.8" rx="2" ry="1.2" stroke-width="0.90" transform="rotate(-15 202.7 624.8)"/>
<ellipse cx="223.6" cy="608.2" rx="2" ry="1.2" stroke-width="0.90" transform="rotate(-15 223.6 608.2)"/>
<ellipse cx="249.6" cy="658" rx="2" ry="1.2" stroke-width="0.90" transform="rotate(-15 249.6 658)"/>
<ellipse cx="272.7" cy="663.4" rx="2" ry="1.2" stroke-width="0.90" transform="rotate(-15 272.7 663.4)"/>
<ellipse cx="271.5" cy="593.5" rx="2" ry="1.2" stroke-width="0.90" transform="rotate(-15 271.5 593.5)"/>
<ellipse cx="318.3" cy="626.2" rx="2" ry="1.2" stroke-width="0.90" transform="rotate(-15 318.3 626.2)"/>
<ellipse cx="318.1" cy="642.1" rx="2" ry="1.2" stroke-width="0.90" transform="rotate(-15 318.1 642.1)"/>
<path d="M279.6 668.8C279.6 668.8 279.6 669 279.6 669.1C279.6 669.1 279.6 669.2 279.5 669.3C279.5 669.4 279.5 669.5 279.4 669.6C279.4 669.6 279.4 669.7 279.3 669.8C279.3 669.9 279.2 669.9 279.2 670C279.1 670.1 279.1 670.2 279 670.2C279 670.3 278.9 670.3 278.8 670.4C278.7 670.4 278.7 670.5 278.6 670.5C278.5 670.6 278.4 670.6 278.4 670.6C278.3 670.7 278.2 670.7 278.1 670.7C278 670.8 277.9 670.8 277.9 670.8C277.8 670.8 277.7 670.8 277.6 670.8C277.5 670.8 277.4 670.8 277.3 670.8C277.3 670.8 277.2 670.8 277.1 670.7C277 670.7 276.9 670.7 276.8 670.6C276.8 670.6 276.7 670.6 276.6 670.5C276.5 670.5 276.5 670.4 276.4 670.4C276.3 670.3 276.2 670.3 276.2 670.2C276.1 670.2 276.1 670.1 276 670C276 669.9 275.9 669.9 275.9 669.8C275.8 669.7 275.8 669.6 275.8 669.6C275.7 669.5 275.7 669.4 275.7 669.3C275.6 669.2 275.6 669.1 275.6 669.1C275.6 669 275.6 668.8 275.6 668.8" stroke-width="0.90"/>
<path d="M325.8 647.9C325.8 647.9 325.8 648.1 325.8 648.2C325.8 648.2 325.8 648.3 325.7 648.4C325.7 648.5 325.7 648.6 325.6 648.7C325.6 648.7 325.6 648.8 325.5 648.9C325.5 649 325.4 649 325.4 649.1C325.3 649.2 325.3 649.3 325.2 649.3C325.2 649.4 325.1 649.4 325 649.5C324.9 649.5 324.9 649.6 324.8 649.6C324.7 649.7 324.6 649.7 324.6 649.7C324.5 649.8 324.4 649.8 324.3 649.8C324.2 649.9 324.1 649.9 324.1 649.9C324 649.9 323.9 649.9 323.8 649.9C323.7 649.9 323.6 649.9 323.5 649.9C323.5 649.9 323.4 649.9 323.3 649.8C323.2 649.8 323.1 649.8 323 649.7C323 649.7 322.9 649.7 322.8 649.6C322.7 649.6 322.7 649.5 322.6 649.5C322.5 649.4 322.4 649.4 322.4 649.3C322.3 649.3 322.3 649.2 322.2 649.1C322.2 649 322.1 649 322.1 648.9C322 648.8 322 648.7 322 648.7C321.9 648.6 321.9 648.5 321.9 648.4C321.8 648.3 321.8 648.2 321.8 648.2C321.8 648.1 321.8 647.9 321.8 647.9" stroke-width="0.90"/>
<path d="M264.2 672.4L340.4 639.4L343.3 645.7L343.3 700L330 740L266.9 741.8L253.9 736.7L257.5 681.9Z" fill="#fff" stroke="none"/>
<path d="M264.2 672.4L257.6 681.9L253.9 736.7L266.9 741.8" stroke-width="1.23"/>
<path d="M266.0 743.6Q270.0 744.4 273.6 742.2" stroke-width="0.90"/>
<path d="M340.4 638.5L343.3 645.7L343.3 695.0" stroke-width="1.12"/>
<polygon points="273.4,675.7 326.7,651.4 326.3,662.9 273.1,687.5" stroke-width="1.01"/>
<text class="t" font-size="10" stroke="#111" stroke-width="0.65" transform="matrix(0.919 -0.395 -0.349 1.279 282.2 680.4)" textLength="38.5" lengthAdjust="spacingAndGlyphs">DC-1541</text>
<polygon points="287.2,684.8 310.8,674 311.2,681.4 287.6,693.2" stroke-width="1.01"/>
<polygon points="288.3,685.6 309.8,675.8 310.1,680.8 288.6,691.8" stroke-width="0.56"/>
<text class="t" font-size="6" stroke="#111" stroke-width="0.45" transform="matrix(0.915 -0.404 -0.242 1.139 289.9 688.8)" textLength="21.8" lengthAdjust="spacingAndGlyphs">DC-1540</text>
<circle cx="315.2" cy="675" r="0.9" fill="#111" stroke="none"/>
<circle cx="282.4" cy="690" r="0.9" fill="#111" stroke="none"/>
<circle cx="340.4" cy="649.3" r="0.9" fill="#111" stroke="none"/>
<circle cx="258.6" cy="686.9" r="0.9" fill="#111" stroke="none"/>
<path d="M328.2 685.4L357.0 705.6L339.7 736.6L312.3 720.7Z" fill="#fff" stroke="none"/>
<path d="M310 719.6C309.7 719.5 308.9 719.1 308.4 718.8C307.9 718.5 307.4 718.1 307 717.6C306.6 717.2 306.2 716.7 305.9 716.2C305.5 715.6 305.2 715 305 714.4C304.7 713.8 304.6 713.1 304.4 712.4C304.3 711.7 304.2 711 304.1 710.2C304.1 709.5 304.1 708.7 304.2 707.9C304.2 707.1 304.3 706.2 304.5 705.4C304.6 704.5 304.9 703.7 305.1 702.8C305.4 702 305.7 701.1 306 700.3C306.4 699.4 306.8 698.6 307.2 697.8C307.6 696.9 308.1 696.1 308.6 695.3C309.1 694.6 309.7 693.8 310.3 693C310.8 692.3 311.5 691.6 312.1 690.9C312.7 690.3 313.4 689.6 314.1 689.1C314.7 688.5 315.4 687.9 316.1 687.5C316.8 687 317.5 686.5 318.3 686.1C319 685.8 319.7 685.4 320.4 685.2C321.1 684.9 321.8 684.7 322.5 684.5C323.2 684.4 323.9 684.3 324.6 684.2C325.3 684.2 325.9 684.2 326.5 684.3C327.2 684.4 327.8 684.6 328.3 684.8C328.9 685 329.5 685.3 330 685.6C330.5 685.9 331.1 686.5 331.3 686.7" stroke-width="1.46"/>
<path d="M311 719.9C310.7 719.7 310 719.3 309.6 719C309.1 718.6 308.7 718.2 308.3 717.8C308 717.3 307.7 716.8 307.4 716.3C307.1 715.7 306.8 715.2 306.6 714.6C306.4 713.9 306.3 713.3 306.2 712.6C306.1 711.9 306 711.2 306 710.5C306 709.8 306 709 306.1 708.2C306.1 707.5 306.3 706.7 306.4 705.9C306.6 705.1 306.8 704.3 307 703.5C307.3 702.7 307.6 701.9 307.9 701.1C308.3 700.3 308.6 699.5 309.1 698.7C309.5 698 309.9 697.2 310.4 696.4C310.9 695.7 311.4 695 311.9 694.3C312.5 693.6 313.1 692.9 313.6 692.3C314.2 691.7 314.8 691.1 315.5 690.5C316.1 690 316.8 689.4 317.4 689C318.1 688.5 318.7 688.1 319.4 687.7C320.1 687.3 320.8 687 321.4 686.7C322.1 686.4 322.8 686.2 323.4 686C324.1 685.8 324.8 685.7 325.4 685.6C326.1 685.6 326.7 685.6 327.3 685.6C327.9 685.7 328.5 685.7 329 685.9C329.6 686.1 330.1 686.3 330.6 686.5C331.2 686.8 331.8 687.3 332.1 687.4" stroke-width="1.01"/>
<path d="M313 719.9C312.8 719.7 312.2 719.3 311.8 719C311.4 718.6 311 718.2 310.7 717.8C310.4 717.4 310.1 716.9 309.9 716.4C309.6 715.9 309.4 715.3 309.2 714.8C309.1 714.2 308.9 713.6 308.9 713C308.8 712.3 308.7 711.7 308.7 711C308.7 710.3 308.7 709.6 308.8 708.9C308.9 708.2 309 707.5 309.2 706.8C309.3 706 309.5 705.3 309.8 704.5C310 703.8 310.3 703.1 310.6 702.3C310.9 701.6 311.3 700.9 311.6 700.2C312 699.5 312.4 698.8 312.9 698.1C313.3 697.4 313.8 696.7 314.3 696.1C314.8 695.5 315.3 694.9 315.8 694.3C316.4 693.7 316.9 693.1 317.5 692.6C318.1 692.1 318.7 691.6 319.3 691.2C319.9 690.7 320.5 690.3 321.1 690C321.7 689.6 322.4 689.3 323 689C323.6 688.8 324.2 688.5 324.8 688.4C325.4 688.2 326 688.1 326.6 688C327.2 687.9 327.8 687.9 328.4 687.9C328.9 687.9 329.5 688 330 688.1C330.5 688.2 331 688.4 331.5 688.6C332 688.8 332.6 689.2 332.8 689.4" stroke-width="1.01"/>
<polyline points="328.2,685.4 357,705.6" stroke-width="1.12"/>
<polyline points="312.3,720.7 339.7,736.6" stroke-width="1.12"/>
<ellipse cx="349.1" cy="722" rx="17.6" ry="10.6" stroke-width="1.57" fill="#fff" transform="rotate(-57 349.1 722)"/>
<path d="M287.7 704.1L318.1 725.1L299.3 755.4L269.0 738.1Z" fill="#fff" stroke="none"/>
<path d="M268.2 737.8C267.9 737.7 267.1 737.3 266.6 737C266.1 736.7 265.6 736.3 265.2 735.8C264.8 735.4 264.4 734.9 264.1 734.4C263.7 733.8 263.4 733.2 263.2 732.6C262.9 732 262.8 731.3 262.6 730.6C262.5 729.9 262.4 729.2 262.3 728.4C262.3 727.7 262.3 726.9 262.4 726.1C262.4 725.3 262.5 724.4 262.7 723.6C262.8 722.7 263.1 721.9 263.3 721C263.6 720.2 263.9 719.3 264.2 718.5C264.6 717.6 265 716.8 265.4 716C265.8 715.1 266.3 714.3 266.8 713.5C267.3 712.8 267.9 712 268.5 711.2C269 710.5 269.7 709.8 270.3 709.1C270.9 708.5 271.6 707.8 272.3 707.3C272.9 706.7 273.6 706.1 274.3 705.7C275 705.2 275.7 704.7 276.5 704.3C277.2 704 277.9 703.6 278.6 703.4C279.3 703.1 280 702.9 280.7 702.7C281.4 702.6 282.1 702.5 282.8 702.4C283.5 702.4 284.1 702.4 284.7 702.5C285.4 702.6 286 702.8 286.5 703C287.1 703.2 287.7 703.5 288.2 703.8C288.7 704.1 289.3 704.7 289.5 704.9" stroke-width="1.46"/>
<path d="M269.2 738.1C268.9 737.9 268.2 737.5 267.8 737.2C267.3 736.8 266.9 736.4 266.5 736C266.2 735.5 265.9 735 265.6 734.5C265.3 733.9 265 733.4 264.8 732.8C264.6 732.1 264.5 731.5 264.4 730.8C264.3 730.1 264.2 729.4 264.2 728.7C264.2 728 264.2 727.2 264.3 726.4C264.3 725.7 264.5 724.9 264.6 724.1C264.8 723.3 265 722.5 265.2 721.7C265.5 720.9 265.8 720.1 266.1 719.3C266.5 718.5 266.8 717.7 267.3 716.9C267.7 716.2 268.1 715.4 268.6 714.6C269.1 713.9 269.6 713.2 270.1 712.5C270.7 711.8 271.3 711.1 271.8 710.5C272.4 709.9 273 709.3 273.7 708.7C274.3 708.2 275 707.6 275.6 707.2C276.3 706.7 276.9 706.3 277.6 705.9C278.3 705.5 279 705.2 279.6 704.9C280.3 704.6 281 704.4 281.6 704.2C282.3 704 283 703.9 283.6 703.8C284.3 703.8 284.9 703.8 285.5 703.8C286.1 703.9 286.7 703.9 287.2 704.1C287.8 704.3 288.3 704.5 288.8 704.7C289.4 705 290 705.5 290.3 705.6" stroke-width="1.01"/>
<path d="M271.2 738.1C271 737.9 270.4 737.5 270 737.2C269.6 736.8 269.2 736.4 268.9 736C268.6 735.6 268.3 735.1 268.1 734.6C267.8 734.1 267.6 733.5 267.4 733C267.3 732.4 267.1 731.8 267.1 731.2C267 730.5 266.9 729.9 266.9 729.2C266.9 728.5 266.9 727.8 267 727.1C267.1 726.4 267.2 725.7 267.4 725C267.5 724.2 267.7 723.5 268 722.7C268.2 722 268.5 721.3 268.8 720.5C269.1 719.8 269.5 719.1 269.8 718.4C270.2 717.7 270.6 717 271.1 716.3C271.5 715.6 272 714.9 272.5 714.3C273 713.7 273.5 713.1 274 712.5C274.6 711.9 275.1 711.3 275.7 710.8C276.3 710.3 276.9 709.8 277.5 709.4C278.1 708.9 278.7 708.5 279.3 708.2C279.9 707.8 280.6 707.5 281.2 707.2C281.8 707 282.4 706.7 283 706.6C283.6 706.4 284.2 706.3 284.8 706.2C285.4 706.1 286 706.1 286.6 706.1C287.1 706.1 287.7 706.2 288.2 706.3C288.7 706.4 289.2 706.6 289.7 706.8C290.2 707 290.8 707.4 291 707.6" stroke-width="1.01"/>
<polyline points="287.7,704.1 318.1,725.1" stroke-width="1.12"/>
<polyline points="269,738.1 299.3,755.4" stroke-width="1.12"/>
<ellipse cx="308.7" cy="740.7" rx="17.6" ry="10.6" stroke-width="1.57" fill="#fff" transform="rotate(-57 308.7 740.7)"/>
<!-- part 4 -->
<polyline points="488.4,423.7 488.4,438.1" stroke-width="1.01"/>
<circle cx="477.4" cy="454.0" r="19.3" fill="#fff" stroke-width="1.2"/>
<ellipse cx="478.5" cy="439.1" rx="6.5" ry="3.9" stroke-width="1.12"/>
<ellipse cx="479" cy="439.6" rx="4.3" ry="2.4" stroke-width="1.01"/>
<polyline points="476.4,473.3 476.4,491" stroke-width="1.01"/>
<polyline points="486.7,475.2 486.7,495" stroke-width="1.01"/>
<!-- part 13 -->
<polyline points="371,365 441.3,414.4 440.1,430.2 432.9,433.8 361.9,383.3 370,379.4" stroke-width="1.12"/>
<polyline points="371,365 369.8,381 440.1,430.2" stroke-width="1.12"/>
<polyline points="362.3,381.7 433.6,432.2" stroke-width="0.90"/>
<polyline points="371,365 441.3,414.4" stroke-width="1.68"/>
<circle cx="378.2" cy="375.4" r="1.4" fill="#111" stroke="none"/>
<circle cx="405.2" cy="394.4" r="1.4" fill="#111" stroke="none"/>
<circle cx="432.4" cy="413.6" r="1.4" fill="#111" stroke="none"/>
<ellipse cx="377.5" cy="388.6" rx="2.2" ry="1.3" stroke-width="1.01" transform="rotate(-15 377.5 388.6)"/>
<ellipse cx="424.9" cy="422.1" rx="2.2" ry="1.3" stroke-width="1.01" transform="rotate(-15 424.9 422.1)"/>
<polyline points="440.6,412 457,404.7" stroke-width="0.90"/>
<!-- part 2 -->
<ellipse cx="753.4" cy="40.4" rx="103.2" ry="18.8" stroke-width="1.46" transform="rotate(-17.3 753.4 40.4)"/>
<path d="M657.6 71C660 69.5 665.7 65.4 672 62C678.3 58.6 685.8 54.7 695.5 50.5C705.2 46.3 719.2 40.8 730 37C740.8 33.2 749 31.1 760 27.7C771 24.3 784.8 19.3 796 16.8C807.2 14.3 819.4 13.2 827.4 12.6C835.4 12 840.8 12.6 844.2 13.2C847.6 13.8 847.4 15.5 848 16" stroke-width="1.01"/>
<path d="M661.8 73.4C664.5 72.2 672 68.8 678 66C684 63.2 689.3 60 698 56.5C706.7 53 719.7 48.5 730 45C740.3 41.5 749 38.7 760 35.5C771 32.3 784.4 28.2 796 25.9C807.6 23.6 822.6 22.3 829.8 21.7C837 21.1 837.5 22.4 839 22.5" stroke-width="1.01"/>
<path d="M669 74.6C671.5 73.5 678.4 70.4 684 68C689.6 65.6 694.4 62.8 702.7 60.2C711 57.6 724.5 55.2 734 52.3C743.5 49.4 751.5 45.4 760 42.7C768.5 40 777.3 38.1 785.3 36.1C793.3 34.1 801.1 31.9 808.1 30.7C815.1 29.5 824.2 29.2 827.4 28.9" stroke-width="1.01"/>
<path d="M683.5 75.2C685.2 74 690.4 69.9 694 68C697.6 66.1 700.7 64.8 705 63.8C709.3 62.8 714.6 61.9 719.6 62C724.6 62.1 732.6 64 735.2 64.4" stroke-width="1.01"/>
<path d="M693 74C694.2 73.2 697.5 70.4 700 69C702.5 67.6 705.3 66.2 708 65.5C710.7 64.8 714.7 64.7 716 64.5" stroke-width="0.90"/>
<polyline points="695,43.3 700,54 707,63.8" stroke-width="1.01"/>
<polyline points="734,52.3 750.9,59.6" stroke-width="1.01"/>
<polyline points="828.6,6.6 831,17 832.2,27.1" stroke-width="1.01"/>
<polyline points="785.3,36.7 778,51.7" stroke-width="1.01"/>
<path d="M654.6 71.5C655 73.2 655.8 78.6 656.8 82C657.8 85.4 660 90.3 660.6 92" stroke-width="1.12"/>
<path d="M660.6 92C661.8 92.8 664.6 95.7 668 96.5C671.4 97.3 673.6 97.6 681 96.8C688.4 96 699 94.6 712.2 91.5C725.4 88.4 748 81.6 760 78.2C772 74.8 774.4 74.6 784 71C793.6 67.4 807.7 60.9 817.7 56.5C827.7 52.1 838 48.2 844.2 44.5C850.4 40.8 852.8 36.9 855 34.3C857.2 31.7 857.1 29.8 857.5 28.9" stroke-width="1.12"/>
<path d="M664 95.5C667.1 96 674.4 98.9 682.5 98.6C690.6 98.3 699.6 96.3 712.5 93.6C725.4 90.9 744.1 87.2 760 82.5C775.9 77.8 794.3 71.3 808.1 65.6C821.9 59.9 835 53.5 843 48.5C851 43.5 854.1 37.5 856.3 35.3" stroke-width="1.01"/>
<path d="M851.2 11.5C851.8 12.9 854 17.1 855 20C856 22.9 857.1 27.4 857.5 28.9" stroke-width="1.12"/>
<polyline points="673.7,75.8 679.7,96" stroke-width="1.01"/>
<polyline points="812.9,39.7 819,55.5" stroke-width="1.01"/>
<polyline points="666.5,96.8 690,111.6 706.7,123.3"/>
<path d="M706 96C708.9 99.2 716.2 108.8 723.3 115C730.3 121.2 740.8 126.4 748.3 133.3C755.8 140.2 763.6 150.2 768.3 156.6C773 163 775.2 169.1 776.6 171.6" stroke-width="1.01"/>
<path d="M807 70C806 73.3 803 81.1 800.7 90C798.4 98.9 795 112.2 793.2 123.3C791.4 134.4 790.5 148.5 789.9 156.6C789.3 164.7 789.9 169.1 789.9 171.6" stroke-width="1.01"/>
<path d="M827.7 59C828.7 61.8 832 70.8 833.5 76C835 81.2 835.6 82.1 836.5 90C837.4 97.9 838.7 113.3 839 123.3C839.3 133.3 838.3 145.5 838.2 149.9" stroke-width="1.01"/>
<path d="M857.2 33.7C856.9 38.1 856.6 51.6 855.6 60C854.6 68.4 852.8 75 851 84.2C849.2 93.4 846.6 105.7 845 115C843.4 124.3 842.2 133.6 841.5 140C840.8 146.4 840.8 151.1 840.7 153.3" stroke-width="1.12"/>
<polyline points="705.8,124.1 704.7,135.8 777.4,187.4"/>
<polyline points="708.3,125 776.6,171.6" stroke-width="1.46"/>
<polyline points="705.8,124.1 708.3,125"/>
<path d="M777.4 187.4Q780 190.3 784.9 189.9L791.6 188.2L839.9 165.8Q841.6 164.5 841.5 153.3"/>
<polyline points="776.6,172.4 777.4,187.4"/>
<polyline points="790.4,171.6 791.6,188.2" stroke-width="1.01"/>
<polyline points="837.4,151 837.4,166.6" stroke-width="1.01"/>
<path d="M776.6 172.4Q780 174.3 789.9 171.6L839.9 149.9" stroke-width="1.12"/>
<path d="M776.8 174.2Q780 176 790 173.4L840.3 151.6" stroke-width="1.46"/>
<path d="M777 176.3Q780 178 790.2 175.4L840.5 153.6" stroke-width="1.01"/>
<path d="M777.3 179.6Q780 181.3 790.7 178.4L840.7 156.4" stroke-width="1.12"/>
<circle cx="713.8" cy="138.3" r="1.6" stroke-width="1.01"/>
<circle cx="741.6" cy="157.4" r="1.6" stroke-width="1.01"/>
<circle cx="769.1" cy="176.9" r="1.6" stroke-width="1.01"/>
<circle cx="797.9" cy="180.2" r="1.6" stroke-width="1.01"/>
<circle cx="829.9" cy="165.3" r="1.6" stroke-width="1.01"/>
<!-- callouts -->
<line x1="501.2" y1="46" x2="488" y2="80.1" stroke-width="1.2"/>
<polygon points="482,95.5 482.7,78.1 493.2,82.1" fill="#000" stroke="none"/>
<circle cx="508.4" cy="27.3" r="20.0" fill="#fff" stroke-width="1.3"/>
<path transform="translate(502.5 34.4) scale(0.00972 -0.00972)" d="M763 0H583V1147Q518 1085 412.5 1023T223 930V1104Q373 1174.5 485.5 1275T645 1470H763Z" fill="#0a0a0a" stroke="none"/>
<line x1="931.9" y1="53.2" x2="866.2" y2="79.9" stroke-width="1.2"/>
<polygon points="850.9,86.1 864.1,74.7 868.3,85.1" fill="#000" stroke="none"/>
<circle cx="950.4" cy="45.7" r="20.0" fill="#fff" stroke-width="1.3"/>
<text x="950" y="52.8" class="n">2</text>
<line x1="705.4" y1="391.7" x2="640.7" y2="418.1" stroke-width="1.2"/>
<polygon points="625.4,424.3 638.6,412.9 642.8,423.3" fill="#000" stroke="none"/>
<circle cx="723.9" cy="384.1" r="20.0" fill="#fff" stroke-width="1.3"/>
<text x="723.5" y="391.2" class="n">3</text>
<line x1="407.2" y1="451.3" x2="439.5" y2="451.8" stroke-width="1.2"/>
<polygon points="458,452.1 439.4,457.4 439.6,446.2" fill="#000" stroke="none"/>
<circle cx="387.2" cy="451" r="20.0" fill="#fff" stroke-width="1.3"/>
<text x="386.8" y="458.1" class="n">4</text>
<line x1="698.1" y1="500.6" x2="632.8" y2="527.2" stroke-width="1.2"/>
<polygon points="617.5,533.4 630.7,522 634.9,532.4" fill="#000" stroke="none"/>
<circle cx="716.6" cy="493" r="20.0" fill="#fff" stroke-width="1.3"/>
<text x="716.2" y="500.1" class="n">5</text>
<line x1="819.3" y1="703.9" x2="753.5" y2="730.9" stroke-width="1.2"/>
<polygon points="738.2,737.2 751.3,725.8 755.6,736.1" fill="#000" stroke="none"/>
<circle cx="837.8" cy="696.3" r="20.0" fill="#fff" stroke-width="1.3"/>
<text x="837.4" y="703.3" class="n">6</text>
<line x1="689.2" y1="628.9" x2="623.1" y2="656.5" stroke-width="1.2"/>
<polygon points="607.9,662.9 621,651.4 625.3,661.7" fill="#000" stroke="none"/>
<circle cx="707.7" cy="621.2" r="20.0" fill="#fff" stroke-width="1.3"/>
<text x="707.3" y="628.2" class="n">7</text>
<line x1="455.3" y1="694.3" x2="480.8" y2="631.3" stroke-width="1.2"/>
<polygon points="487,616 486,633.4 475.6,629.2" fill="#000" stroke="none"/>
<circle cx="447.8" cy="712.8" r="20.0" fill="#fff" stroke-width="1.3"/>
<text x="447.4" y="719.8" class="n">8</text>
<line x1="270.1" y1="547.3" x2="338.8" y2="547.3" stroke-width="1.2"/>
<polygon points="357.3,547.3 338.8,552.9 338.8,541.7" fill="#000" stroke="none"/>
<circle cx="250.1" cy="547.3" r="20.0" fill="#fff" stroke-width="1.3"/>
<text x="249.7" y="554.3" class="n">9</text>
<line x1="194.3" y1="494.4" x2="264" y2="494.6" stroke-width="1.2"/>
<polygon points="282.5,494.6 264,500.2 264,489" fill="#000" stroke="none"/>
<circle cx="174.3" cy="494.4" r="20.0" fill="#fff" stroke-width="1.3"/>
<path transform="translate(162.8 501.4) scale(0.00972 -0.00972)" d="M763 0H583V1147Q518 1085 412.5 1023T223 930V1104Q373 1174.5 485.5 1275T645 1470H763Z" fill="#0a0a0a" stroke="none"/>
<text x="179.4" y="501.4" class="n">0</text>
<line x1="118.5" y1="439.9" x2="187.1" y2="440.2" stroke-width="1.2"/>
<polygon points="205.6,440.3 187.1,445.8 187.1,434.6" fill="#000" stroke="none"/>
<circle cx="98.5" cy="439.8" r="20.0" fill="#fff" stroke-width="1.3"/>
<path transform="translate(87 446.9) scale(0.00972 -0.00972)" d="M763 0H583V1147Q518 1085 412.5 1023T223 930V1104Q373 1174.5 485.5 1275T645 1470H763Z" fill="#0a0a0a" stroke="none"/>
<path transform="translate(98.1 446.9) scale(0.00972 -0.00972)" d="M763 0H583V1147Q518 1085 412.5 1023T223 930V1104Q373 1174.5 485.5 1275T645 1470H763Z" fill="#0a0a0a" stroke="none"/>
<line x1="249.8" y1="782" x2="259.3" y2="756.7" stroke-width="1.2"/>
<polygon points="265.1,741.3 264.5,758.7 254.1,754.8" fill="#000" stroke="none"/>
<circle cx="242.8" cy="800.7" r="20.0" fill="#fff" stroke-width="1.3"/>
<path transform="translate(231.3 807.8) scale(0.00972 -0.00972)" d="M763 0H583V1147Q518 1085 412.5 1023T223 930V1104Q373 1174.5 485.5 1275T645 1470H763Z" fill="#0a0a0a" stroke="none"/>
<text x="247.9" y="807.8" class="n">2</text>
<line x1="308.2" y1="315.9" x2="358.9" y2="362.8" stroke-width="1.2"/>
<polygon points="371,374 355.1,366.9 362.7,358.7" fill="#000" stroke="none"/>
<circle cx="293.5" cy="302.3" r="20.0" fill="#fff" stroke-width="1.3"/>
<path transform="translate(282 309.4) scale(0.00972 -0.00972)" d="M763 0H583V1147Q518 1085 412.5 1023T223 930V1104Q373 1174.5 485.5 1275T645 1470H763Z" fill="#0a0a0a" stroke="none"/>
<text x="298.6" y="309.4" class="n">3</text>
</g>
</svg>
</body></html>
